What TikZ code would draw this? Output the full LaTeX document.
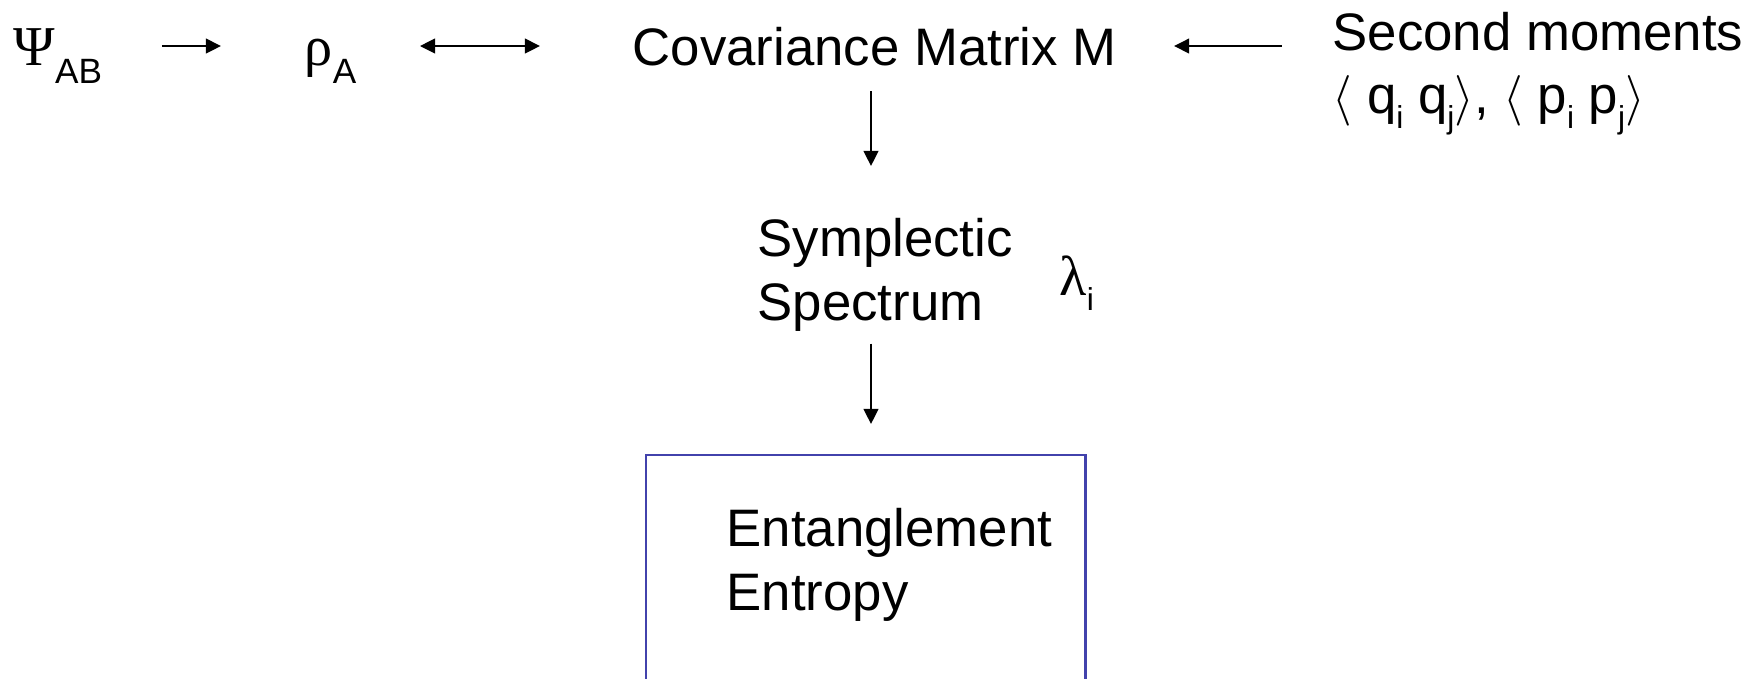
\documentclass[tikz,border=0pt]{standalone}
\usepackage{fontspec}
\setmainfont{Liberation Sans}
\newfontfamily\greekfont{Liberation Serif}
\usetikzlibrary{arrows.meta, positioning}
\definecolor{boxblue}{RGB}{66,66,172}
\newcommand{\lowidx}[1]{\raisebox{-0.35em}{\fontsize{10}{10}\selectfont #1}}
\newcommand{\smidx}[1]{\raisebox{-0.3em}{\fontsize{9}{9}\selectfont #1}}
\newcommand{\gr}[1]{{\greekfont\fontsize{16}{18}\selectfont #1}}

\begin{document}
\begin{tikzpicture}[x=0.01cm, y=0.01cm,
	every node/.style={inner sep=0pt, font=\fontsize{15}{18.2}\selectfont},
	rowtext/.style={anchor=base west, text height=13.8pt, text depth=3pt},
	arr/.style={-{Triangle[length=4.3pt, width=4.2pt]}, line width=0.57pt},
	dblarr/.style={{Triangle[length=4.3pt, width=4.2pt]}-{Triangle[length=4.3pt, width=4.2pt]}, line width=0.57pt},
	entbox/.style={draw=boxblue, line width=0.7pt, anchor=north west, minimum width=4.39cm, minimum height=3cm}]
	\useasboundingbox (0,0) rectangle (1763,-678);
	\node[rowtext] (psi) at (13,-65) {\gr{Ψ}\lowidx{AB}};
	\node[rowtext] (rho) at (304,-65) {\gr{ρ}\lowidx{A}};
	\node[rowtext] (cov) at (632,-65) {Covariance Matrix M};
	\node[anchor=base west] (second) at (1332,-50) {Second moments};
	\node[anchor=base west] (secondb) at (1332,-113)
		{$\langle$ q\smidx{i} q\smidx{j}$\rangle$, $\langle$ p\smidx{i} p\smidx{j}$\rangle$};
	\node[anchor=north west, align=left] (symp) at (757,-218) {Symplectic\\Spectrum};
	\node[anchor=base west] (lam) at (1059,-295) {\gr{λ}\smidx{i}};
	\node[entbox] (ent) at (645,-454) {};
	\node[anchor=north west, align=left] (entlabel) at (726,-508) {Entanglement\\Entropy};
	\coordinate (axis) at (871,0);
	\draw[arr, shorten <=0.59cm, shorten >=0.83cm] (psi.east) -- (rho.west);
	\draw[dblarr, shorten <=0.63cm, shorten >=0.92cm] (rho.east) -- (cov.west);
	\draw[arr, shorten <=0.5cm, shorten >=0.57cm] (second.west |- cov.east) -- (cov.east);
	\draw[arr, shorten <=0.15cm, shorten >=0.52cm] (axis |- cov.south) -- (axis |- symp.north);
	\draw[arr, shorten <=0.11cm, shorten >=0.3cm] (axis |- symp.south) -- (axis |- ent.north);
\end{tikzpicture}
\end{document}
